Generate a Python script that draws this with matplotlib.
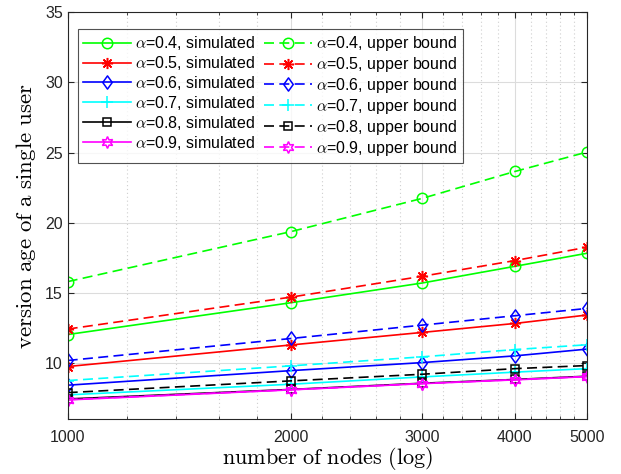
import matplotlib
matplotlib.use('Agg')
import matplotlib.pyplot as plt
import numpy as np
from matplotlib.ticker import FixedLocator, NullFormatter
from matplotlib.path import Path

plt.rcParams['font.family'] = ['Liberation Sans', 'DejaVu Sans']
plt.rcParams['mathtext.fontset'] = 'cm'

nodes = [1000, 2000, 3000, 4000, 5000]
alphas = ['0.4', '0.5', '0.6', '0.7', '0.8', '0.9']

sim_04 = [12.04, 14.31, 15.71, 16.90, 17.83]
sim_05 = [9.76, 11.30, 12.19, 12.83, 13.43]
sim_06 = [8.43, 9.47, 10.04, 10.52, 11.00]
sim_07 = [7.74, 8.50, 9.02, 9.36, 9.61]
sim_08 = [7.45, 8.13, 8.57, 8.84, 9.07]
sim_09 = [7.38, 8.10, 8.54, 8.81, 9.04]

ub_04 = [15.81, 19.38, 21.74, 23.66, 25.04]
ub_05 = [12.43, 14.71, 16.19, 17.31, 18.26]
ub_06 = [10.19, 11.76, 12.71, 13.38, 13.90]
ub_07 = [8.76, 9.81, 10.45, 10.97, 11.31]
ub_08 = [7.90, 8.74, 9.21, 9.61, 9.83]
ub_09 = [7.40, 8.11, 8.55, 8.82, 9.05]

sim_all = [sim_04, sim_05, sim_06, sim_07, sim_08, sim_09]
ub_all = [ub_04, ub_05, ub_06, ub_07, ub_08, ub_09]
colors = ['#00ff00', '#ff0000', '#0000ff', '#00ffff', '#000000', '#ff00ff']

# diamond a bit wider than matplotlib's thin diamond
diamond = Path([(0, 1), (0.72, 0), (0, -1), (-0.72, 0), (0, 1)],
               [Path.MOVETO, Path.LINETO, Path.LINETO, Path.LINETO, Path.CLOSEPOLY])
markers = ['o', (8, 2, 0), diamond, '+', 's', (6, 1, 0)]
msizes = [7.5, 8, 9.5, 9, 6, 8.5]

fig = plt.figure(figsize=(6.21, 4.74), dpi=100)
ax = fig.add_axes([0.109, 0.1154, 0.836, 0.8586])

handles = []
for i in range(6):
    h, = ax.plot(nodes, sim_all[i], '-', color=colors[i], marker=markers[i],
                 ms=msizes[i], mfc='none', mew=1.1, lw=1.2,
                 label=r'$\alpha$=' + alphas[i] + ', simulated')
    handles.append(h)
for i in range(6):
    h, = ax.plot(nodes, ub_all[i], '--', color=colors[i], marker=markers[i],
                 ms=msizes[i], mfc='none', mew=1.1, lw=1.2, dashes=(6, 3.2),
                 label=r'$\alpha$=' + alphas[i] + ', upper bound')
    handles.append(h)

ax.set_xscale('log')
ax.set_xlim(1000, 5000)
ax.set_ylim(6, 35)
ax.xaxis.set_major_locator(FixedLocator(nodes))
ax.set_xticklabels([str(n) for n in nodes])
minor = [x for x in range(1200, 5000, 200) if x % 1000 != 0]
ax.xaxis.set_minor_locator(FixedLocator(minor))
ax.xaxis.set_minor_formatter(NullFormatter())
ax.set_yticks([10, 15, 20, 25, 30, 35])

ax.grid(True, which='major', color='#dcdcdc', lw=0.8, ls='-')
ax.grid(True, which='minor', axis='x', color='#cfcfcf', lw=0.8, ls=(0, (1, 2.5)))
ax.set_axisbelow(True)

for s in ax.spines.values():
    s.set_color('#262626')
    s.set_linewidth(0.8)
ax.tick_params(which='both', direction='in', top=True, right=True,
               colors='#262626', labelsize=11.5)
ax.tick_params(which='major', length=4)
ax.tick_params(which='minor', length=2.5)
ax.tick_params(axis='x', pad=8)

ax.set_xlabel(r'$\mathrm{number\ of\ nodes\ (log)}$', fontsize=16, labelpad=0)
ax.set_ylabel(r'$\mathrm{version\ age\ of\ a\ single\ user}$', fontsize=16.5, labelpad=5)

leg = ax.legend(handles=handles, ncol=2, loc='upper left',
                bbox_to_anchor=(0.02, 0.958), fontsize=11.5,
                frameon=True, fancybox=False, edgecolor='#262626',
                handlelength=3.0, handletextpad=0.25, columnspacing=0.6,
                labelspacing=0.12, borderpad=0.3, borderaxespad=0.0)
leg.get_frame().set_linewidth(0.8)

fig.savefig('out.png', dpi=100)
